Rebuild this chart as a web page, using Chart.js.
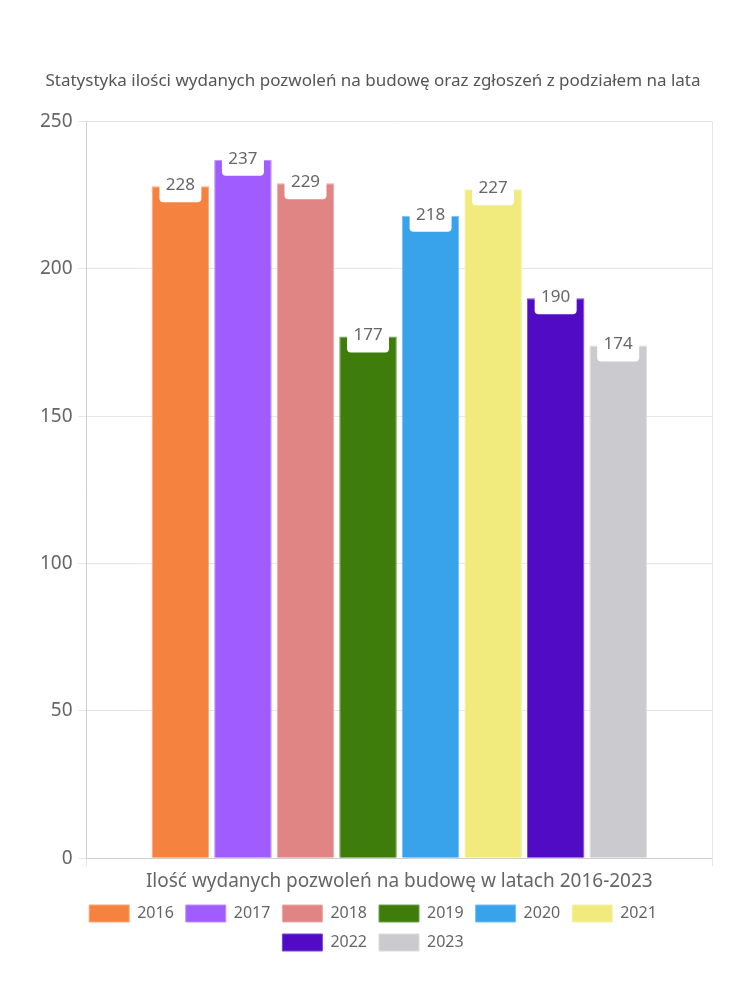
<!DOCTYPE html>
<html>
<head>
<meta charset="utf-8">
<script src="https://cdn.jsdelivr.net/npm/chart.js@4"></script>
<style>
  html, body { margin: 0; padding: 0; background: #fff; }
  #wrap { width: 750px; height: 1000px; }
</style>
</head>
<body>
<div id="wrap"><canvas id="permitChart"></canvas></div>
<script>
const years = ['2016', '2017', '2018', '2019', '2020', '2021', '2022', '2023'];
const permits = [228, 237, 229, 177, 218, 227, 190, 174];
const barColors = ['#F5833F', '#A15CFF', '#E08484', '#3E7D0C', '#38A3EB', '#F0EB7C', '#520BC4', '#CBCBCF'];
const edgeColors = ['#F9A777', '#BC8CFF', '#EBA9A9', '#6E9E49', '#74C0F1', '#F5F1A8', '#7A45D3', '#DCDCDF'];
const yTicks = [0, 50, 100, 150, 200, 250];

const FONT = '"Noto Sans", "DejaVu Sans", sans-serif';
Chart.defaults.font.family = FONT;
Chart.defaults.color = '#666';

// white rounded tag with the value, sitting on the top of each bar
const valueTags = {
    id: 'valueTags',
    afterDatasetsDraw(chart) {
        const ctx = chart.ctx;
        ctx.save();
        chart.data.datasets.forEach((ds, i) => {
            const bar = chart.getDatasetMeta(i).data[0];
            const w = 42, top = bar.y - 14, h = 30;
            ctx.fillStyle = '#fff';
            ctx.beginPath();
            ctx.roundRect(bar.x - w / 2, top, w, h, 4);
            ctx.fill();
            ctx.fillStyle = '#666';
            ctx.font = '17px ' + FONT;
            ctx.textAlign = 'center';
            ctx.textBaseline = 'middle';
            ctx.fillText(ds.data[0], bar.x, bar.y - 1);
        });
        ctx.restore();
    }
};

const ctx = document.getElementById('permitChart').getContext('2d');
const permitChart = new Chart(ctx, {
    type: 'bar',
    data: {
        labels: [''],
        datasets: years.map((y, i) => ({
            label: y,
            data: [permits[i]],
            backgroundColor: barColors[i],
            borderColor: edgeColors[i],
            borderWidth: 1
        }))
    },
    options: {
        responsive: true,
        maintainAspectRatio: false,
        animation: false,
        layout: { padding: { top: 71, right: 38, left: 34, bottom: 39 } },
        categoryPercentage: 0.8,
        barPercentage: 0.92,
        plugins: {
            title: {
                display: true,
                text: 'Statystyka ilości wydanych pozwoleń na budowę oraz zgłoszeń z podziałem na lata',
                font: { size: 17, weight: 'normal' },
                color: '#555',
                padding: { top: 0, bottom: 30 }
            },
            legend: {
                position: 'bottom',
                labels: {
                    boxWidth: 40,
                    boxHeight: 17,
                    font: { size: 16 },
                    padding: 12
                }
            },
            tooltip: { enabled: false }
        },
        scales: {
            x: {
                ticks: { display: false },
                grid: { color: '#e6e6e6' },
                title: {
                    display: true,
                    text: 'Ilość wydanych pozwoleń na budowę w latach 2016-2023',
                    font: { size: 19 },
                    padding: { top: 4, bottom: 0 }
                }
            },
            y: {
                min: 0,
                max: 250,
                afterBuildTicks: axis => { axis.ticks = yTicks.map(v => ({ value: v })); },
                ticks: { font: { size: 19 }, padding: 6 },
                grid: { color: '#e6e6e6' }
            }
        }
    },
    plugins: [valueTags]
});
</script>
</body>
</html>
